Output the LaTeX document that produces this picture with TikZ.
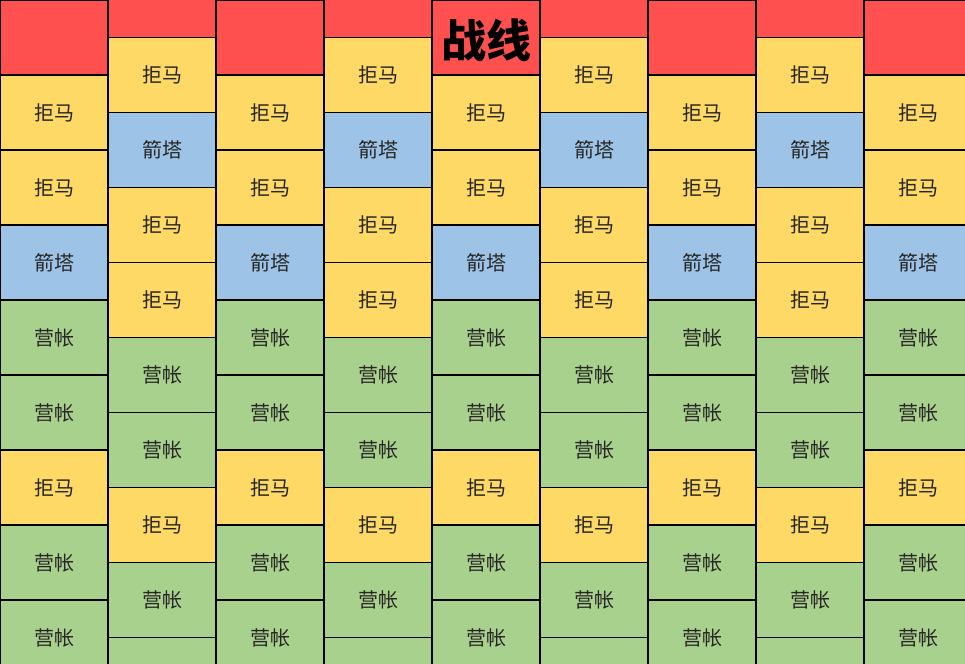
\documentclass[tikz,border=0pt]{standalone}
\usepackage{fontspec}
\newfontfamily\cjk{Noto Sans CJK SC}
\definecolor{cred}{HTML}{FF5050}
\definecolor{cyel}{HTML}{FFD966}
\definecolor{cblu}{HTML}{9DC3E6}
\definecolor{cgrn}{HTML}{A9D18E}
\begin{document}
\begin{tikzpicture}[x=1pt,y=-1pt,
  cell/.style={draw=black, line width=1.1pt, minimum width=108pt, minimum height=75pt,
    inner sep=0pt, font=\cjk\fontsize{20}{20}\selectfont, text=black!85},
  jm/.style={cell, fill=cyel},
  jt/.style={cell, fill=cblu},
  yz/.style={cell, fill=cgrn},
  rd/.style={cell, fill=cred},
  title/.style={inner sep=0pt, font=\cjk\bfseries\fontsize{45}{45}\selectfont, text=black}]
\useasboundingbox (0,0) rectangle (965,663);
\clip (0,0) rectangle (965,663);
\foreach \i in {0,2,4,6,8} {
  \foreach [count=\j] \t/\s in {rd/{},jm/拒马,jm/拒马,jt/箭塔,yz/营帐,yz/营帐,jm/拒马,yz/营帐,yz/营帐} {
    \node[\t] (c\i-\j) at ({108*\i+54},{75*(\j-1)+37.5}) {\s};
  }
}
\foreach \i in {1,3,5,7} {
  \foreach [count=\j] \t/\s in {rd/{},jm/拒马,jt/箭塔,jm/拒马,jm/拒马,yz/营帐,yz/营帐,jm/拒马,yz/营帐,yz/{}} {
    \node[\t] (c\i-\j) at ({108*\i+54},{75*(\j-1)}) {\s};
  }
}
\node[title] (title) at ([yshift=-3pt]c4-1.center) {战线};
\end{tikzpicture}
\end{document}
